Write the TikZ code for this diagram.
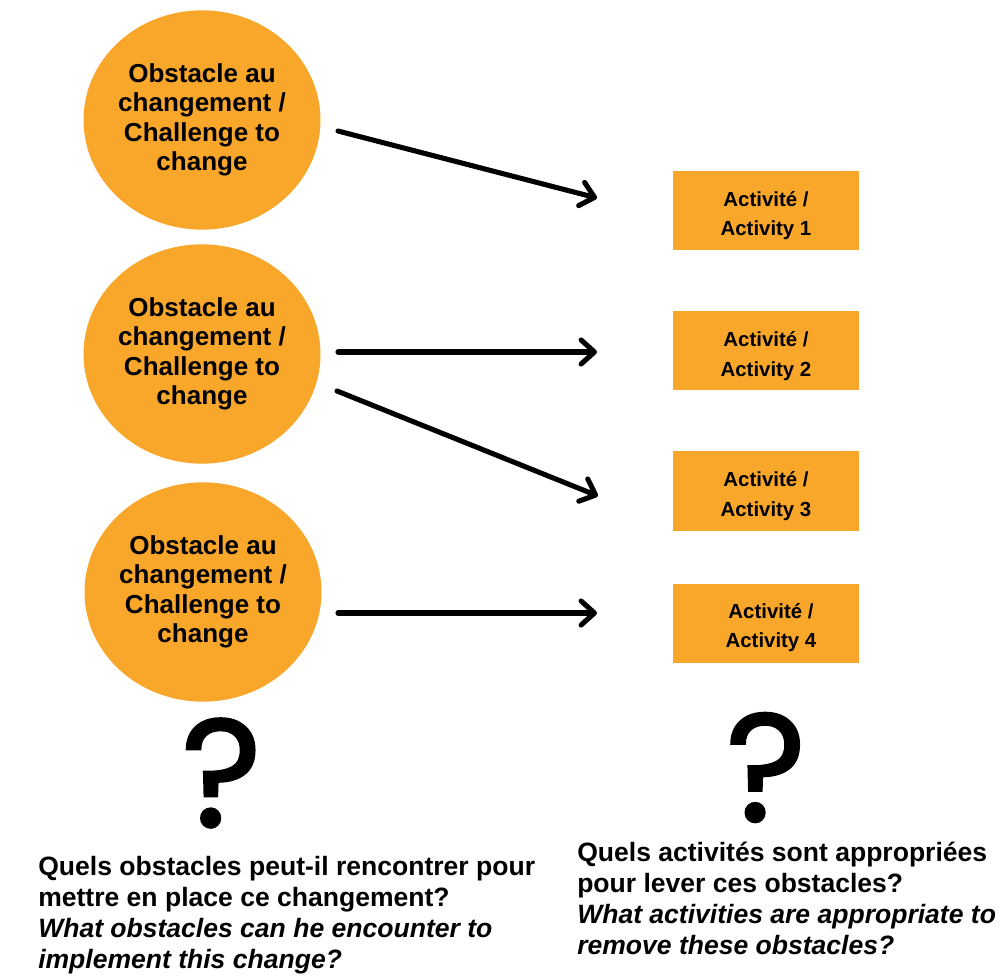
\documentclass[tikz,border=0pt]{standalone}
\usepackage{fontspec}
\setmainfont{Liberation Sans}
\newfontfamily\qfont[FakeBold=1.6]{Poppins}
\usetikzlibrary{shapes.geometric,arrows.meta}
\definecolor{obor}{HTML}{F9A72B}
\begin{document}
\begin{tikzpicture}[x=0.75pt,y=-0.75pt,
  obst/.style={ellipse,fill=obor,draw=none,minimum width=172.5pt,minimum height=164.5pt,inner sep=0pt,align=center,
    font=\fontsize{19.5pt}{22.1pt}\selectfont\bfseries},
  actbox/.style={rectangle,fill=obor,draw=none,minimum width=139.5pt,minimum height=59.25pt,inner sep=0pt},
  actlab/.style={inner sep=0pt,align=center,font=\fontsize{15.3pt}{22pt}\selectfont\bfseries},
  arr/.style={line width=3.8pt,line cap=round,-{Straight Barb[round,length=10pt,width=18pt]}},
  qmark/.style={inner sep=0pt,font=\qfont\fontsize{115pt}{115pt}\selectfont},
  question/.style={anchor=base west,align=left,inner sep=0pt,font=\fontsize{19.9pt}{23.25pt}\selectfont\bfseries}
]
\useasboundingbox (0,0) rectangle (1000,980);
\fill[white] (0,0) rectangle (1000,980);

\node[obst] (o1) at (202,120) {Obstacle au\\changement /\\Challenge to\\change};
\node[obst] (o2) at (202,354) {Obstacle au\\changement /\\Challenge to\\change};
\node[obst] (o3) at (203,592) {Obstacle au\\changement /\\Challenge to\\change};

\node[actbox] (a1) at (766,210.5) {};
\node[actbox] (a2) at (766,351) {};
\node[actbox] (a3) at (766,491) {};
\node[actbox] (a4) at (766,623.5) {};
\node[actlab] (l1) at ([yshift=-3.75pt]a1.center) {Activité /\\Activity 1};
\node[actlab] (l2) at ([yshift=-3.75pt]a2.center) {Activité /\\Activity 2};
\node[actlab] (l3) at ([yshift=-3.75pt]a3.center) {Activité /\\Activity 3};
\node[actlab] (l4) at ([xshift=3.75pt,yshift=-3pt]a4.center) {Activité /\\Activity 4};

\coordinate (s1) at (338,131);
\coordinate (e1) at (597,198);
\coordinate (s2) at (338,352);
\coordinate (e2) at (597,352);
\coordinate (s3) at (337,391);
\coordinate (e3) at (598,496);
\coordinate (s4) at (338,613);
\coordinate (e4) at (597,613);
\draw[arr] (s1) -- (e1);
\draw[arr] (s2) -- (e2);
\draw[arr] (s3) -- (e3);
\draw[arr] (s4) -- (e4);

\node[qmark] (q1) at (221.5,773) {?};
\node[qmark] (q2) at (766,767.5) {?};

\node[question] (t1) at (38,968) {Quels obstacles peut-il rencontrer pour\\mettre en place ce changement?\\\itshape What obstacles can he encounter to\\\itshape implement this change?};
\node[question] (t2) at (577,954) {Quels activités sont appropriées\\pour lever ces obstacles?\\\itshape What activities are appropriate to\\\itshape remove these obstacles?};
\end{tikzpicture}
\end{document}
